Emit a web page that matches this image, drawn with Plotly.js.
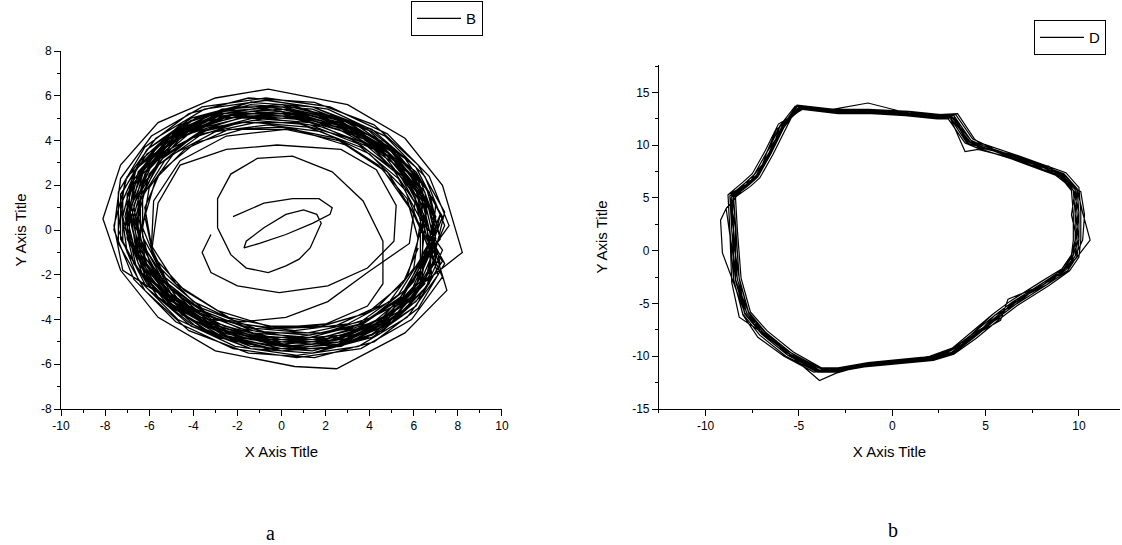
<!DOCTYPE html>
<html>
<head>
<meta charset="utf-8">
<script src="https://cdn.plot.ly/plotly-3.0.1.min.js"></script>
<style>html,body{margin:0;padding:0;background:#fff;}#chart{width:1122px;height:545px;}</style>
</head>
<body>
<div id="chart"></div>
<script>
// ---- Tick labels (hyphen minus as in the reference) ----
const aXTicks = [-10,-8,-6,-4,-2,0,2,4,6,8,10];
const aXLabels = ['-10','-8','-6','-4','-2','0','2','4','6','8','10'];
const aYTicks = [-8,-6,-4,-2,0,2,4,6,8];
const aYLabels = ['-8','-6','-4','-2','0','2','4','6','8'];
const bXTicks = [-10,-5,0,5,10];
const bXLabels = ['-10','-5','0','5','10'];
const bYTicks = [-15,-10,-5,0,5,10,15];
const bYLabels = ['-15','-10','-5','0','5','10','15'];

// ---- Panel a (series "B"): inner spiral ----
const bSpiralX = [-2.2,-0.8,0.5,1.7,2.3,2.2,1.4,0.2,-1.0,-1.7,-1.6,-0.8,0.2,1.0,1.6,1.8,1.3,0.8,0.2,-0.6,-1.6,-2.3,-2.9,-2.9,-2.3,-1.1,0.5,2.3,3.7,4.6,4.6,3.9,2.0,-0.5,-3.0,-5.0,-5.9,-5.8,-4.6,-2.5,0.2,2.6,4.6,5.8];
const bSpiralY = [0.6,1.2,1.4,1.4,1.0,0.7,0.3,-0.2,-0.6,-0.8,-0.5,0.1,0.7,0.9,0.7,0.3,-0.8,-1.3,-1.6,-1.9,-1.7,-1.1,0.1,1.4,2.5,3.2,3.3,2.6,1.3,-0.5,-2.4,-3.4,-4.2,-4.4,-4.0,-2.7,-0.8,1.3,3.1,4.2,4.5,4.0,2.7,1.0];

// ---- Panel a: dense ring (successive turns) ----
const bRingX = [
 6.2,5.7,4.4,2.5,0.0,-2.4,-4.4,-5.7,-6.2,-5.8,-4.4,-2.4,0.0,2.4,4.4,5.7,
 6.5,5.5,3.7,1.3,-1.3,-3.7,-5.5,-6.5,-6.5,-5.5,-3.7,-1.3,1.3,3.7,5.5,6.5,
 7.0,6.5,5.0,2.7,0.2,-2.7,-5.0,-6.5,-7.0,-6.5,-5.0,-2.7,0.3,2.7,5.0,6.5,
 7.2,6.1,4.1,1.4,-1.4,-4.1,-6.1,-7.2,-7.2,-6.1,-4.1,-1.4,1.4,4.1,6.1,7.2,
 6.9,6.4,4.9,2.6,-0.1,-2.6,-4.9,-6.4,-6.9,-6.4,-4.9,-2.6,0.1,2.6,4.9,6.4,
 6.4,5.4,3.6,1.3,-1.3,-3.6,-5.4,-6.4,-6.4,-5.4,-3.6,-1.3,1.3,3.6,5.4,6.4,
 7.2,6.6,5.0,2.7,0.0,-2.7,-5.0,-6.6,-7.1,-6.6,-5.0,-2.9,0.0,2.7,5.0,6.6,
 7.4,6.2,4.2,1.5,-1.5,-4.2,-6.2,-7.4,-7.4,-6.2,-4.2,-1.5,1.5,4.2,6.2,7.4,
 6.8,6.3,4.8,2.6,0.0,-2.6,-4.8,-6.3,-6.8,-6.3,-4.8,-2.6,0.0,2.8,4.8,6.3,
 6.3,5.3,3.6,1.2,-1.2,-3.6,-5.3,-6.3,-6.3,-5.3,-3.6,-1.2,1.2,3.6,5.3,6.3,
 7.2,6.7,5.1,2.8,0.0,-2.8,-5.1,-6.7,-7.2,-6.7,-5.1,-2.8,0.0,2.8,5.1,6.7,
 6.9,5.8,3.9,1.4,-1.4,-3.9,-5.8,-6.9,-6.9,-5.8,-3.9,-1.4,1.4,3.9,5.8,6.9,
 6.7,6.2,4.7,2.6,0.0,-2.6,-4.7,-6.2,-6.7,-6.2,-4.7,-2.6,0.0,2.6,4.7,6.2,
 7.3,6.1,4.1,1.4,-1.4,-4.1,-6.1,-7.3,-7.3,-6.1,-4.1,-1.4,1.4,4.1,6.1,7.3,
 6.6,6.1,4.7,2.5,0.0,-2.5,-4.7,-6.1,-6.6,-6.1,-4.7,-2.5,0.0,2.5,4.7,6.1,
 7.0,5.9,3.9,1.4,-1.4,-3.9,-5.9,-7.0,-7.0,-5.9,-3.9,-1.4,1.4,3.9,5.9,7.0,
 6.9,6.4,4.9,2.6,0.0,-2.6,-4.9,-6.4,-6.9,-6.4,-4.9,-2.6,0.0,2.6,4.9,6.4,
 8.2,7.3,5.6,3.0,-0.6,-3.0,-5.6,-7.3,-8.1,-7.3,-5.6,-3.0,0.6,2.5,5.6,7.5,
 6.8,6.3,4.8,2.6,0.0,-2.6,-4.8,-7.0,-7.6,-7.2,-4.8,-2.6,0.0,2.6,4.8,6.3,
 6.9,5.8,3.9,1.4,-1.4,-3.9,-5.8,-6.9,-6.9,-5.8,-3.9,-1.4,1.4,3.9,5.8,6.9,
 6.5,6.0,4.6,2.5,0.0,-2.5,-4.6,-6.0,-6.5,-6.0,-4.6,-2.5,0.0,2.5,4.6,6.0,
 7.2,6.1,4.1,1.4,-1.4,-4.1,-6.1,-7.2,-7.2,-6.1,-4.1,-1.4,1.4,4.1,6.1,7.2,
 6.3,5.6,4.0,1.8,-0.6,-3.0,-4.9,-6.0,-6.3,-5.6,-4.0,-1.8,0.6,3.0,4.9,6.0,
 6.4,5.2,3.2,0.7,-1.9,-4.2,-5.9,-6.7,-6.4,-5.2,-3.2,-0.7,1.9,4.2,5.9,6.7,
 7.0,6.2,4.4,2.0,-0.7,-3.3,-5.4,-6.7,-7.0,-6.2,-4.4,-2.0,0.7,3.3,5.4,6.7,
 7.0,5.6,3.4,0.7,-2.1,-4.6,-6.4,-7.3,-7.0,-5.6,-3.4,-0.7,2.1,4.6,6.4,7.3,
 6.6,5.8,4.2,1.9,-0.6,-3.1,-5.1,-6.3,-6.6,-5.8,-4.2,-1.9,0.6,3.1,5.1,6.3,
 6.6,5.3,3.2,0.7,-2.0,-4.4,-6.1,-6.9,-6.6,-5.3,-3.2,-0.7,2.0,4.4,6.1,6.9,
 7.4,6.5,4.7,2.1,-0.7,-3.5,-5.7,-7.1,-7.4,-6.5,-4.7,-2.1,0.7,3.5,5.7,7.1,
 6.2,5.0,3.1,0.6,-1.9,-4.1,-5.7,-6.5,-6.2,-5.0,-3.1,-0.6,1.9,4.1,5.7,6.5,
 7.1,6.3,4.5,2.1,-0.7,-3.3,-5.5,-6.8,-7.1,-6.3,-4.5,-2.1,0.7,3.3,5.5,6.8,
 6.5,5.3,3.2,0.7,-2.0,-4.3,-6.0,-6.8,-6.5,-5.3,-3.2,-0.7,2.0,4.3,6.0,6.8,
 7.6,6.7,4.8,2.2,-0.7,-3.6,-5.9,-7.3,-7.6,-6.7,-4.8,-2.2,0.7,3.6,5.9,7.3,
 5.9,4.8,2.9,0.6,-1.8,-3.9,-5.5,-6.2,-5.9,-4.8,-2.9,-0.6,1.8,3.9,5.5,6.2
];
const bRingY = [
 -0.4,1.4,2.9,4.1,4.6,4.5,3.6,2.3,0.6,-1.2,-2.7,-3.9,-4.4,-4.3,-3.4,-2.1,
 0.6,2.4,3.9,4.8,5.0,4.4,3.2,1.5,-0.4,-2.2,-3.7,-4.6,-4.8,-4.2,-3.0,-1.3,
 -0.4,1.7,3.5,4.8,5.4,5.2,4.2,2.6,0.5,-1.5,-3.3,-4.6,-5.2,-5.0,-4.0,-2.4,
 0.7,2.8,4.5,5.5,5.7,5.0,3.6,1.7,-0.5,-2.6,-4.3,-5.3,-5.5,-4.8,-3.4,-1.5,
 -0.3,1.6,3.4,4.7,5.3,5.1,4.1,2.5,0.7,-1.4,-3.2,-4.5,-5.1,-4.9,-3.9,-2.3,
 0.6,2.4,3.8,4.7,4.9,4.4,3.2,1.5,-0.4,-2.2,-3.6,-4.5,-4.7,-4.2,-3.0,-1.3,
 -0.4,1.8,3.6,5.0,5.6,5.4,4.3,2.7,0.6,-1.6,-3.4,-4.8,-5.4,-5.2,-4.1,-2.5,
 0.8,2.9,4.7,5.7,5.9,5.2,3.7,1.7,-0.6,-2.7,-4.5,-5.5,-5.7,-5.0,-3.5,-1.5,
 -0.4,1.6,3.3,4.5,5.1,5.0,4.0,2.5,0.6,-1.4,-3.1,-4.3,-4.9,-4.7,-3.8,-2.3,
 0.5,2.3,3.7,4.6,4.8,4.3,3.1,1.5,-0.3,-2.1,-3.5,-4.4,-4.6,-4.1,-2.9,-1.3,
 -0.4,1.7,3.6,4.9,5.5,5.3,4.3,2.6,0.6,-1.5,-3.4,-4.7,-5.3,-5.1,-4.1,-2.4,
 0.7,2.8,4.5,5.5,5.7,5.0,3.6,1.7,-0.5,-2.6,-4.3,-5.3,-5.5,-4.8,-3.4,-1.5,
 -0.4,1.6,3.4,4.6,5.2,5.0,4.1,2.5,0.6,-1.4,-3.2,-4.4,-5.0,-4.8,-3.9,-2.3,
 0.6,2.6,4.2,5.1,5.3,4.7,3.4,1.6,-0.4,-2.4,-4.0,-4.9,-5.1,-4.5,-3.2,-1.4,
 -0.4,1.8,3.6,5.0,5.6,5.4,4.3,2.7,0.6,-1.6,-3.4,-4.8,-5.4,-5.2,-4.1,-2.5,
 0.6,2.5,4.0,4.9,5.1,4.5,3.3,1.6,-0.4,-2.3,-3.8,-4.7,-4.9,-4.3,-3.1,-1.4,
 -0.4,1.7,3.6,4.9,5.5,5.3,4.3,2.6,0.6,-1.5,-3.4,-4.7,-5.3,-5.1,-4.1,-2.4,
 -1.0,2.0,4.1,5.6,6.3,5.9,4.8,2.9,0.5,-1.8,-3.9,-5.4,-6.1,-6.2,-4.6,-2.7,
 -0.4,1.7,3.5,4.8,5.4,5.2,4.2,2.4,0.2,-1.8,-3.3,-4.6,-5.2,-5.0,-4.0,-2.4,
 0.6,2.5,4.1,5.0,5.2,4.6,3.4,1.6,-0.4,-2.3,-3.9,-4.8,-5.0,-4.4,-3.2,-1.4,
 -0.4,1.6,3.4,4.7,5.3,5.1,4.1,2.5,0.6,-1.4,-3.2,-4.5,-5.1,-4.9,-3.9,-2.3,
 0.7,2.8,4.4,5.4,5.6,4.9,3.6,1.7,-0.5,-2.6,-4.2,-5.2,-5.4,-4.7,-3.4,-1.5,
 0.1,1.8,3.4,4.4,4.7,4.4,3.4,1.9,0.1,-1.6,-3.2,-4.2,-4.5,-4.2,-3.2,-1.7,
 1.1,2.9,4.3,5.0,5.0,4.3,2.9,1.1,-0.9,-2.7,-4.1,-4.8,-4.8,-4.1,-2.7,-0.9,
 0.1,2.2,3.9,5.0,5.4,5.0,3.8,2.1,0.1,-2.0,-3.7,-4.8,-5.2,-4.8,-3.6,-1.9,
 1.2,3.2,4.7,5.5,5.5,4.7,3.1,1.1,-1.0,-3.0,-4.5,-5.3,-5.3,-4.5,-2.9,-0.9,
 0.1,2.0,3.6,4.6,5.0,4.6,3.6,2.0,0.1,-1.8,-3.4,-4.4,-4.8,-4.4,-3.4,-1.8,
 1.1,3.0,4.5,5.2,5.2,4.4,3.0,1.1,-0.9,-2.8,-4.3,-5.0,-5.0,-4.2,-2.8,-0.9,
 0.2,2.4,4.2,5.4,5.8,5.4,4.1,2.2,0.0,-2.2,-4.0,-5.2,-5.6,-5.2,-3.9,-2.0,
 1.0,2.8,4.1,4.8,4.8,4.1,2.8,1.1,-0.8,-2.6,-3.9,-4.6,-4.6,-3.9,-2.6,-0.9,
 0.1,2.2,4.0,5.1,5.5,5.1,3.9,2.1,0.1,-2.0,-3.8,-4.9,-5.3,-4.9,-3.7,-1.9,
 1.1,3.0,4.4,5.1,5.1,4.4,2.9,1.1,-0.9,-2.8,-4.2,-4.9,-4.9,-4.2,-2.7,-0.9,
 0.2,2.4,4.3,5.5,5.9,5.5,4.2,2.3,0.0,-2.2,-4.1,-5.3,-5.7,-5.3,-4.0,-2.1,
 0.9,2.6,3.8,4.5,4.5,3.9,2.6,1.0,-0.7,-2.4,-3.6,-4.3,-4.3,-3.7,-2.4,-0.8
];

// ---- Panel a: second inner branch (separate piece) ----
const bBranchX = [-3.2,-3.6,-3.2,-2.0,-0.1,2.1,3.9,5.1,5.2,4.3,2.7,-0.2,-2.5,-4.6,-5.6,-5.9,-5.0,-3.3,-1.7,0.2,2.1,3.9,5.8,6.1,5.2];
const bBranchY = [-0.2,-1.0,-1.9,-2.5,-2.8,-2.5,-1.7,-0.5,1.1,2.7,3.6,3.8,3.6,2.9,1.2,-1.0,-2.9,-4.0,-4.1,-3.9,-3.2,-1.9,-0.6,1.5,3.3];

// ---- Panel b (series "D"): closed orbit, successive turns ----
const dX = [
 -5.0,-3.0,-1.2,0.8,2.5,3.2,4.1,4.7,6.5,8.2,9.1,9.8,9.9,9.9,9.8,9.3,8.2,6.5,5.6,4.3,3.2,2.2,0.2,-1.4,-3.0,-3.9,-5.5,-6.9,-7.8,-8.3,-8.5,-8.6,-7.8,-7.3,-6.6,-5.9,
 -5.1,-3.1,-1.3,0.9,2.6,3.4,4.3,4.9,6.6,8.4,9.3,10.0,10.1,10.1,10.0,9.5,8.4,6.7,5.8,4.5,3.3,2.2,0.2,-1.5,-3.1,-4.0,-5.7,-7.1,-8.0,-8.5,-8.7,-8.8,-8.0,-7.5,-6.8,-6.1,
 -4.8,-2.9,-1.1,0.7,2.4,3.0,3.9,4.6,6.4,8.1,9.0,9.6,9.7,9.7,9.6,9.1,8.0,6.3,5.4,4.1,3.1,2.1,0.2,-1.3,-2.9,-3.8,-5.3,-6.7,-7.6,-8.1,-8.3,-8.4,-7.6,-7.1,-6.4,-5.7,
 -5.1,-3.0,-1.2,0.8,2.6,3.3,4.0,4.6,6.4,8.1,9.0,9.7,9.8,9.8,9.7,9.2,8.1,6.6,5.7,4.4,3.3,2.3,0.3,-1.3,-3.0,-4.0,-5.4,-6.8,-7.7,-8.2,-8.4,-8.5,-7.7,-7.2,-6.5,-5.8,
 -4.9,-3.0,-1.2,0.8,2.5,3.1,4.2,4.8,6.6,8.3,9.2,9.9,10.0,10.0,9.9,9.4,8.3,6.4,5.5,4.2,3.1,2.1,0.1,-1.5,-3.0,-3.8,-5.6,-7.0,-7.9,-8.4,-8.6,-8.7,-7.9,-7.4,-6.7,-6.0,
 -5.0,-3.2,-1.3,0.7,2.5,3.2,4.0,4.8,6.5,8.3,9.2,9.9,10.2,10.6,9.9,9.3,8.1,6.5,5.6,4.3,3.2,2.2,0.2,-1.4,-3.1,-3.9,-5.5,-7.0,-7.9,-9.1,-9.2,-8.9,-7.8,-7.3,-6.6,-5.9,
 -5.0,-3.0,-1.1,0.8,2.5,3.3,4.1,4.7,6.6,8.2,9.0,9.8,9.9,9.9,9.8,9.2,8.3,6.7,5.6,4.3,3.3,2.3,0.3,-1.4,-3.0,-3.9,-5.4,-6.9,-7.8,-8.3,-8.5,-8.6,-7.8,-7.2,-6.6,-5.9,
 -5.1,-3.1,-1.2,0.8,2.6,3.3,4.2,4.8,6.5,8.3,9.2,9.9,10.0,10.0,9.9,9.4,8.3,6.6,5.7,4.4,3.2,2.2,0.2,-1.4,-3.1,-4.0,-5.6,-7.0,-7.9,-8.4,-8.6,-8.7,-7.9,-7.4,-6.7,-6.0,
 -4.9,-2.9,-1.1,0.7,2.4,3.1,3.9,4.6,6.4,8.1,9.0,9.7,9.8,9.8,9.7,9.2,8.1,6.4,5.5,4.2,3.1,2.1,0.1,-1.3,-2.9,-3.8,-5.4,-6.8,-7.7,-8.2,-8.4,-8.5,-7.7,-7.2,-6.5,-5.8,
 -5.0,-3.0,-1.2,0.8,2.5,3.2,4.1,4.7,6.5,8.2,9.1,9.8,9.6,9.9,9.8,9.3,8.0,6.2,5.8,4.3,3.2,2.2,0.2,-1.4,-3.0,-3.9,-5.5,-6.9,-7.8,-8.3,-8.7,-8.9,-7.8,-7.3,-6.4,-5.9,
 -4.9,-3.1,-1.3,0.9,2.4,3.3,4.0,4.9,6.3,8.4,9.0,9.9,9.8,10.0,9.7,9.4,8.1,6.6,5.5,4.4,3.1,2.3,0.1,-1.5,-2.9,-4.0,-5.4,-7.0,-7.7,-8.4,-8.4,-8.7,-7.7,-7.4,-6.5,-6.0,
 -5.2,-3.0,-1.2,0.7,2.6,3.2,4.2,4.6,6.6,8.1,9.1,9.7,10.0,9.8,9.9,9.2,8.3,6.4,5.7,4.2,3.3,2.1,0.3,-1.3,-3.1,-3.8,-5.6,-6.8,-7.9,-8.2,-8.6,-8.5,-7.9,-7.2,-6.7,-5.8,
 -5.0,-2.9,-1.2,0.8,2.5,3.5,4.4,4.8,6.5,8.2,9.3,10.1,10.3,10.2,9.8,9.3,8.2,6.5,5.6,4.4,3.2,2.2,0.2,-1.4,-3.0,-3.9,-5.5,-7.1,-8.2,-8.6,-8.7,-8.8,-7.8,-7.3,-6.6,-5.9,
 -5.0,-3.0,-1.2,0.8,2.5,3.2,4.1,4.7,6.5,8.2,9.1,9.8,9.9,9.9,9.8,9.3,8.2,6.5,5.6,4.6,3.4,2.0,0.2,-1.4,-3.0,-4.2,-5.8,-7.2,-8.0,-8.5,-8.5,-8.6,-7.8,-7.3,-6.6,-5.9,
 -4.9,-3.0,-1.2,0.8,2.5,3.2,4.1,4.7,6.5,8.2,9.1,9.8,9.9,9.9,9.8,9.3,8.2,6.5,5.6,4.3,3.2,2.2,0.2,-1.4,-3.0,-3.9,-5.5,-6.9,-7.8,-8.3,-8.5,-8.6,-8.0,-7.0,-6.8,-6.2,
 -4.8,-3.0,-1.3,0.6,2.4,3.1,4.0,4.8,6.7,8.3,9.2,9.9,10.0,9.8,9.6,9.1,8.0,6.3,5.4,4.2,3.1,2.2,0.3,-1.5,-3.0,-4.0,-5.5,-6.9,-7.8,-8.4,-8.6,-8.6,-7.7,-7.3,-6.5,-5.8
];
const dY = [
 13.6,13.2,13.2,13.0,12.7,12.7,10.4,9.9,8.9,7.8,7.2,5.8,3.6,1.0,-0.5,-1.8,-3.1,-5.0,-6.2,-8.1,-9.6,-10.2,-10.5,-10.8,-11.3,-11.3,-9.8,-7.8,-5.9,-2.7,2.0,5.2,6.3,7.1,9.3,11.8,
 13.8,13.4,13.4,13.2,12.9,12.9,10.6,10.1,9.1,8.0,7.4,6.0,3.7,1.0,-0.6,-1.9,-3.3,-5.2,-6.4,-8.3,-9.8,-10.4,-10.7,-11.0,-11.5,-11.5,-10.0,-8.0,-6.0,-2.8,2.0,5.3,6.5,7.3,9.5,12.0,
 13.4,13.0,13.0,12.8,12.5,12.5,10.2,9.7,8.7,7.6,7.0,5.7,3.5,1.0,-0.4,-1.7,-2.9,-4.8,-6.0,-7.9,-9.4,-10.0,-10.3,-10.6,-11.1,-11.1,-9.6,-7.6,-5.8,-2.6,2.0,5.1,6.1,6.9,9.1,11.6,
 13.7,13.3,13.3,13.1,12.8,12.8,10.5,10.0,8.8,7.7,7.1,5.7,3.6,1.1,-0.4,-1.7,-3.0,-5.1,-6.3,-8.2,-9.7,-10.3,-10.6,-10.9,-11.4,-11.4,-9.9,-7.8,-5.9,-2.7,2.1,5.2,6.3,7.1,9.3,11.9,
 13.5,13.1,13.1,12.9,12.6,12.6,10.3,9.8,9.0,7.9,7.3,5.9,3.6,1.0,-0.5,-1.9,-3.2,-4.9,-6.1,-8.0,-9.5,-10.1,-10.4,-10.7,-11.2,-11.2,-9.7,-7.8,-5.9,-2.7,2.0,5.2,6.4,7.2,9.4,11.8,
 13.6,13.4,14.0,13.1,12.7,12.7,10.4,10.0,8.9,7.9,7.2,5.9,3.6,1.0,-0.6,-1.8,-3.0,-5.0,-6.2,-8.1,-9.6,-10.2,-10.5,-10.8,-11.3,-11.3,-9.8,-7.8,-5.9,-0.2,2.9,4.0,6.3,7.1,9.3,11.8,
 13.6,13.3,13.2,13.0,12.8,12.6,10.3,9.9,8.8,7.8,7.2,5.8,3.5,1.0,-0.5,-1.8,-3.2,-4.6,-6.3,-8.2,-9.5,-10.3,-10.5,-10.8,-11.6,-12.3,-10.0,-7.8,-5.9,-2.7,2.0,5.1,6.2,7.1,9.2,11.8,
 13.7,13.3,13.3,13.1,12.8,12.8,10.5,10.0,9.0,7.9,7.3,5.9,3.6,1.0,-0.5,-1.9,-3.2,-5.1,-6.3,-8.2,-9.7,-10.3,-10.6,-10.9,-11.4,-11.4,-9.9,-7.9,-6.0,-2.8,2.0,5.2,6.4,7.2,9.4,11.9,
 13.5,13.1,13.1,12.9,12.6,12.6,9.4,9.6,8.8,7.7,7.1,5.7,3.5,1.0,-0.4,-1.7,-3.0,-4.9,-6.1,-8.0,-9.5,-10.1,-10.4,-10.7,-11.2,-11.2,-9.7,-7.7,-5.8,-2.6,2.0,5.1,6.2,7.0,9.2,11.7,
 13.6,13.2,13.2,13.0,12.7,12.7,10.4,9.9,8.9,7.8,7.2,5.8,3.4,1.0,-0.5,-1.8,-3.3,-4.6,-6.6,-8.1,-9.6,-10.2,-10.5,-10.8,-11.3,-11.3,-9.8,-7.8,-5.9,-2.7,1.5,4.0,6.3,7.1,9.6,11.8,
 13.5,13.3,13.1,13.0,12.8,12.5,10.3,10.1,8.8,8.0,7.1,5.9,3.5,1.1,-0.4,-1.9,-3.0,-5.1,-6.1,-8.2,-9.5,-10.3,-10.4,-10.9,-11.2,-11.4,-9.7,-7.9,-5.8,-2.8,2.1,5.2,6.2,7.2,9.2,11.9,
 13.7,13.2,13.3,12.9,12.8,12.6,10.5,9.8,9.0,7.7,7.3,5.7,3.7,0.9,-0.6,-1.7,-3.2,-4.9,-6.4,-8.0,-9.7,-10.1,-10.6,-10.7,-11.4,-11.2,-9.9,-7.7,-6.0,-2.6,1.9,5.3,6.4,7.0,9.4,11.7,
 13.6,13.3,13.2,13.1,12.9,13.0,10.6,10.0,8.9,7.9,6.4,5.6,3.4,1.0,-0.5,-1.8,-3.1,-5.0,-6.2,-8.1,-9.6,-10.2,-10.5,-10.8,-11.3,-11.3,-9.8,-7.6,-6.3,-3.0,1.8,5.3,6.3,7.1,9.3,11.8,
 13.6,13.2,13.2,13.0,12.7,12.7,10.4,9.9,8.9,7.8,7.2,5.8,3.6,1.0,-0.5,-1.8,-3.1,-5.0,-6.2,-7.7,-9.1,-10.0,-10.5,-10.8,-11.3,-11.5,-10.0,-8.2,-6.1,-2.7,2.0,5.2,6.3,7.1,9.3,11.8,
 13.6,13.2,13.2,13.0,12.7,12.7,10.4,9.9,8.9,7.8,7.2,5.8,3.6,1.0,-0.5,-1.8,-3.1,-5.0,-6.2,-8.1,-9.6,-10.2,-10.5,-10.8,-11.3,-11.3,-9.8,-7.8,-5.9,-2.7,2.0,5.2,6.0,7.6,9.0,11.5,
 13.5,13.2,13.1,13.0,12.6,12.6,10.2,9.8,9.0,7.9,7.2,5.8,3.5,1.0,-0.5,-1.7,-2.9,-4.8,-6.0,-8.0,-9.5,-10.1,-10.4,-10.7,-11.2,-11.3,-9.8,-7.8,-5.9,-2.7,2.0,5.2,6.3,7.1,9.3,11.8
];

const bX = bSpiralX.concat(bRingX, [null], bBranchX);
const bY = bSpiralY.concat(bRingY, [null], bBranchY);

const FONT = 'Liberation Sans, Arial, Helvetica, sans-serif';

const traces = [
  {type: 'scatter', mode: 'lines', name: 'B', x: bX, y: bY, xaxis: 'x', yaxis: 'y',
   line: {color: '#000', width: 1.3}, connectgaps: false, legend: 'legend', hoverinfo: 'skip'},
  {type: 'scatter', mode: 'lines', name: 'D', x: dX, y: dY, xaxis: 'x2', yaxis: 'y2',
   line: {color: '#000', width: 1.2}, legend: 'legend2', hoverinfo: 'skip'}
];

function axis(extra) {
  return Object.assign({
    showline: true, linecolor: '#000', linewidth: 1,
    ticks: 'outside', ticklen: 6, tickwidth: 1, tickcolor: '#000',
    showgrid: false, zeroline: false, mirror: false,
    tickmode: 'array',
    tickfont: {family: FONT, size: 12, color: '#000'},
    fixedrange: true
  }, extra);
}
const titleFont = {family: FONT, size: 15, color: '#000'};
const minorTicks = d => ({tickmode: 'linear', tick0: 0, dtick: d, ticks: 'outside', ticklen: 3, tickwidth: 1, tickcolor: '#000', showgrid: false});
const legendFont = {family: FONT, size: 15, color: '#000'};

const layout = {
  width: 1122, height: 545,
  margin: {l: 0, r: 0, t: 0, b: 0},
  paper_bgcolor: '#fff', plot_bgcolor: '#fff',
  font: {family: FONT, color: '#000'},
  showlegend: true,
  xaxis: axis({domain: [0.0544, 0.4474], anchor: 'y', range: [-10, 10], tickvals: aXTicks, ticktext: aXLabels,
    minor: minorTicks(1), title: {text: 'X Axis Title', font: titleFont, standoff: 14}}),
  yaxis: axis({domain: [0.2495, 0.9064], anchor: 'x', range: [-8, 8], tickvals: aYTicks, ticktext: aYLabels,
    minor: minorTicks(1), title: {text: 'Y Axis Title', font: titleFont, standoff: 10}}),
  xaxis2: axis({domain: [0.5873, 0.9982], anchor: 'y2', range: [-12.5, 12.2], tickvals: bXTicks, ticktext: bXLabels,
    minor: minorTicks(2.5), title: {text: 'X Axis Title', font: titleFont, standoff: 14}}),
  yaxis2: axis({domain: [0.2495, 0.8807], anchor: 'x2', range: [-15, 17.6], tickvals: bYTicks, ticktext: bYLabels,
    minor: minorTicks(2.5), title: {text: 'Y Axis Title', font: titleFont, standoff: 20}}),
  legend: {x: 0.4305, xanchor: 'right', y: 0.998, yanchor: 'top', bgcolor: '#fff', itemwidth: 44,
    bordercolor: '#000', borderwidth: 1, font: legendFont},
  legend2: {x: 0.9857, xanchor: 'right', y: 0.963, yanchor: 'top', bgcolor: '#fff', itemwidth: 44,
    bordercolor: '#000', borderwidth: 1, font: legendFont},
  annotations: [
    {text: 'a', xref: 'paper', yref: 'paper', x: 270 / 1122, y: 12 / 545, xanchor: 'center', yanchor: 'middle',
     showarrow: false, font: {family: 'Liberation Serif, Times New Roman, serif', size: 20, color: '#000'}},
    {text: 'b', xref: 'paper', yref: 'paper', x: 893 / 1122, y: 15 / 545, xanchor: 'center', yanchor: 'middle',
     showarrow: false, font: {family: 'Liberation Serif, Times New Roman, serif', size: 20, color: '#000'}}
  ]
};

Plotly.newPlot('chart', traces, layout, {displayModeBar: false, staticPlot: true});
</script>
</body>
</html>
